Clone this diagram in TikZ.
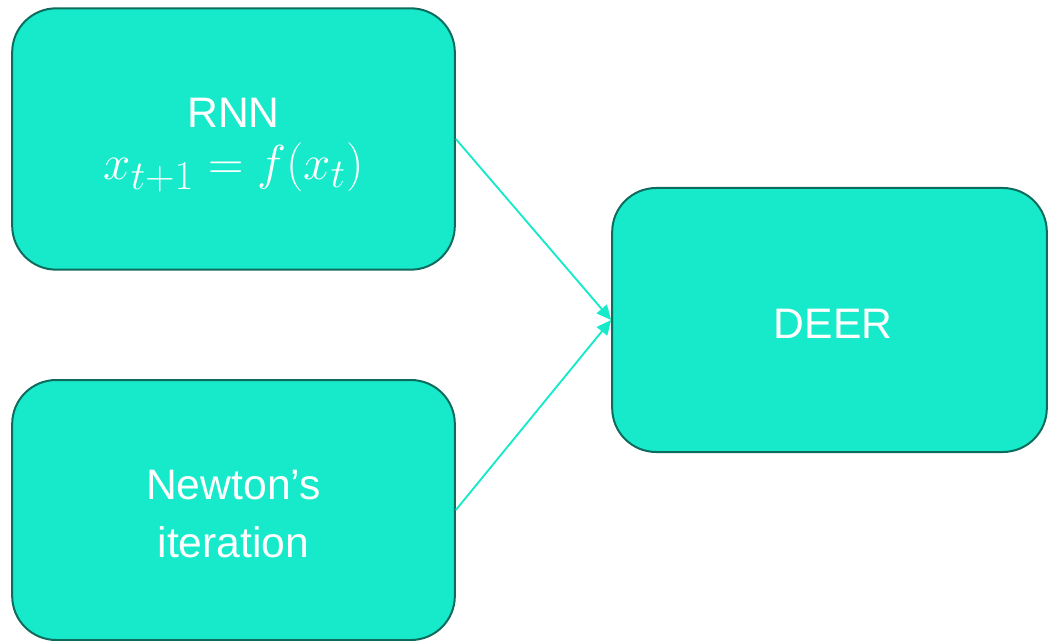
\documentclass[tikz,border=0pt]{standalone}
\usepackage{graphicx}
\usepackage{fontspec}
\setmainfont{Liberation Sans}
\usetikzlibrary{positioning,arrows.meta}
\definecolor{aqua}{HTML}{16EACB}
\definecolor{deepteal}{HTML}{0F6B5E}

\begin{document}
\begin{tikzpicture}[
    x=0.75pt, y=-0.75pt,
    blockBox/.style={rectangle, rounded corners=33pt, draw=deepteal, fill=aqua, line width=1.5pt},
    boxText/.style={text=white, align=center, inner sep=0pt, font=\fontsize{32}{43}\selectfont},
    arrowStyle/.style={-{Triangle[length=11pt,width=10pt]}, line width=1.4pt, draw=aqua}
]
    \useasboundingbox (0,0) rectangle (1048,641);

    \node[blockBox, minimum width=332pt, minimum height=196pt] (rnn) at (233.5, 139) {};
    \node[boxText, font=\fontsize{32}{39}\selectfont] (rnnText) at (233.5, 145) {
        RNN\\
        \scalebox{1.48}{$x_{t+1} = f(x_t)$}
    };

    \node[blockBox, minimum width=332pt, minimum height=195pt] (newton) at (233.5, 510) {};
    \node[boxText] (newtonText) at (233.5, 514) {
        Newton’s\\
        iteration
    };

    \node[blockBox, minimum width=326pt, minimum height=198pt] (deer) at (829.5, 320) {};
    \node[boxText] (deerText) at (833, 324) {DEER};

    \draw[arrowStyle] (rnn.east) -- (deer.west);
    \draw[arrowStyle] (newton.east) -- (deer.west);
\end{tikzpicture}
\end{document}
